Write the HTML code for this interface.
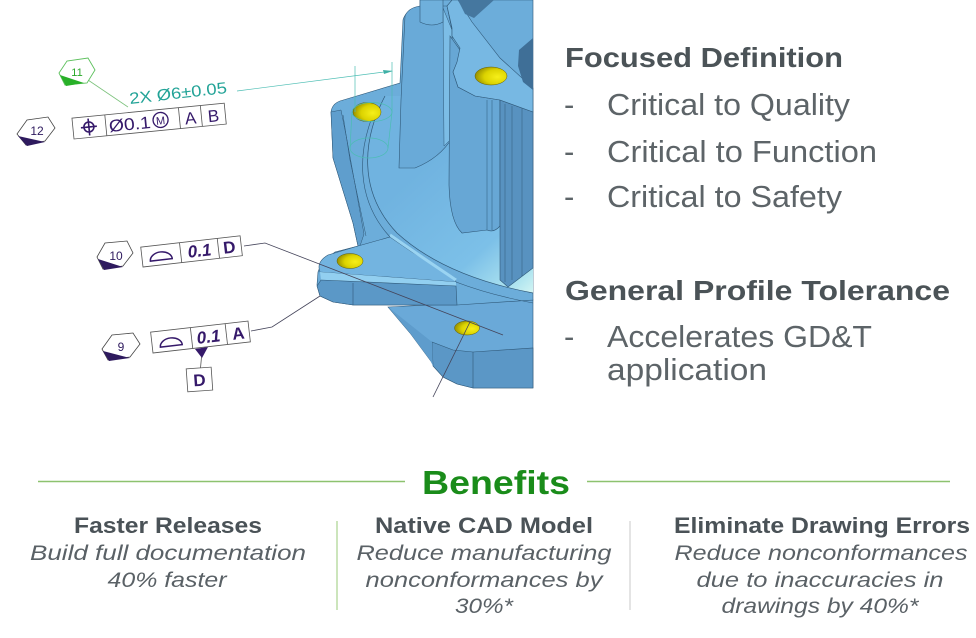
<!DOCTYPE html>
<html><head><meta charset="utf-8"><style>
html,body{margin:0;padding:0;background:#fff;}
body{width:976px;height:638px;overflow:hidden;}
svg{display:block;}
</style></head><body>
<svg width="976" height="638" viewBox="0 0 976 638" xmlns="http://www.w3.org/2000/svg" font-family="'Liberation Sans', Arial, sans-serif">
<defs>
<linearGradient id="floor" gradientUnits="userSpaceOnUse" x1="420" y1="170" x2="533" y2="295">
<stop offset="0" stop-color="#70b3e0"/><stop offset="0.6" stop-color="#7cc0e8"/><stop offset="0.88" stop-color="#aee4f0"/><stop offset="1" stop-color="#d6f6f3"/>
</linearGradient>
<radialGradient id="hole" cx="0.7" cy="0.55" r="0.75">
<stop offset="0" stop-color="#f6ef1a"/><stop offset="0.55" stop-color="#dcd300"/><stop offset="1" stop-color="#8a8300"/>
</radialGradient>
</defs>
<rect width="976" height="638" fill="#fff"/>

<!-- lower base -->
<path d="M388,307 L533,300 L533,388 L473,388 L457,384 L443,377 L430,360 L410,333 Z" fill="#6aa9d8" stroke="#2f5878" stroke-width="0.6"/>
<path d="M432,342 L453,350 L473,352 L533,348 L533,388 L473,388 L457,384 L443,377 L433,366 Z" fill="#5b97c6" stroke="#2f5878" stroke-width="0.6"/>
<path d="M388,307 L432,342 L433,366 L430,360 L410,333 Z" fill="#5e9ccc"/>
<line x1="473" y1="352" x2="473" y2="388" stroke="#2f5878" stroke-width="0.6"/>

<!-- main body -->
<path d="M331,112 Q332,104 340,101 L400,83 L403,20 Q405,12 415,8 L420,6 L420,0 L533,0 L533,300 L457,305 L353,305 L333,302 L320,296 L317,285 L318,272 L322,262 L335,252 L358,246 L353,223 L333,158 Z" fill="#6cadda" stroke="#2f5878" stroke-width="0.6"/>
<!-- floor -->
<path d="M385,96 C362,140 358,192 397,233 C432,265 480,283 533,293 L533,96 Z" fill="url(#floor)"/>
<!-- flange side face -->
<path d="M331,112 L341,110 L347,140 L364,234 L360,246 L358,246 L353,223 L333,158 Z" fill="#5f9ecd" stroke="#2f5878" stroke-width="0.5"/>
<path d="M343,115 L350,160 L366,236" fill="none" stroke="#2f5878" stroke-width="0.5"/>

<!-- main column -->
<path d="M399,168 L401,100 L405,16 Q408,8 420,6 L447,6 L452,30 L452,138 Q440,158 415,168 Z" fill="#69aad8" stroke="#2f5878" stroke-width="0.6"/>
<path d="M443,8 L452,30 L452,138 L444,146 Z" fill="#7cbde6" stroke="#2f5878" stroke-width="0.5"/>
<path d="M420,0 L443,0 L443,22 Q432,28 420,22 Z" fill="#6fb0dc" stroke="#2f5878" stroke-width="0.6"/>

<!-- column 2 -->
<path d="M450,36 L460,50 L457,63 L453,72 L458,87 L475,96 L500,100 L500,226 Q494,233 487,230 L462,233 Q450,222 449,185 Z" fill="#67a7d5" stroke="#2f5878" stroke-width="0.6"/>
<path d="M500,100 L533,112 L533,268 L508,287 L500,280 Z" fill="#5892c0" stroke="#2f5878" stroke-width="0.6"/>
<g stroke="#2f5878" stroke-width="0.5">
<line x1="487" y1="100" x2="487" y2="230"/>
<line x1="492" y1="100" x2="492" y2="230"/>
<line x1="505" y1="104" x2="505" y2="282"/>
<line x1="512" y1="106" x2="512" y2="280"/>
<line x1="522" y1="108" x2="522" y2="276"/>
</g>
<!-- top platform -->
<path d="M447,6 L452,0 L458,0 L472,22 L500,58 L533,88 L533,112 L500,100 L475,96 L458,87 L453,72 L457,62 L460,48 L452,36 L452,28 Z" fill="#77b8e3" stroke="#2f5878" stroke-width="0.6"/>
<path d="M458,0 L494,0 L474,18 L465,14 Z" fill="#45779f"/>
<path d="M519,50 L533,38 L533,90 L523,82 L518,66 Z" fill="#3f6f97"/>

<!-- tab -->
<path d="M320,272 Q316,262 328,255 L358,246 L390,237 L412,252 L455,278 L456,282 Z" fill="#73b4e0" stroke="#2f5878" stroke-width="0.6"/>
<path d="M320,272 L456,282 L456,286 L321,280 Z" fill="#92cff0"/>
<path d="M321,280 L456,286 L457,305 L353,305 L333,302 L320,296 L317,286 Z" fill="#5b98c7" stroke="#2f5878" stroke-width="0.6"/>
<line x1="353" y1="283" x2="353" y2="305" stroke="#2f5878" stroke-width="0.6"/>
<path d="M390,235 Q420,256 456,280" fill="none" stroke="#9ad4f2" stroke-width="3"/>
<path d="M456,282 Q490,295 533,303" fill="none" stroke="#2f5878" stroke-width="0.6"/>

<!-- arcs -->
<path d="M385,96 C362,140 358,192 397,233 C432,265 480,283 533,293" fill="none" stroke="#2f5878" stroke-width="0.7"/>
<path d="M377,106 C356,150 356,200 390,237" fill="none" stroke="#2f5878" stroke-width="0.6"/>

<!-- holes -->
<g fill="url(#hole)" stroke="#5c5a10" stroke-width="0.5">
<ellipse cx="367" cy="112" rx="14" ry="9.5"/>
<ellipse cx="491" cy="76" rx="16" ry="9"/>
<ellipse cx="350" cy="261" rx="13" ry="7.5"/>
<ellipse cx="467" cy="328" rx="12.5" ry="7"/>
</g>

<!-- teal cylinder & dimension -->
<g stroke="#4bbdb3" stroke-width="0.7" fill="none">
<ellipse cx="372" cy="112" rx="20" ry="9.5"/>
<ellipse cx="369" cy="148" rx="19" ry="10"/>
<line x1="352" y1="112" x2="350" y2="148"/>
<line x1="392" y1="112" x2="388" y2="148"/>
<line x1="355" y1="66" x2="355" y2="112"/>
<line x1="392" y1="62" x2="392" y2="112"/>
<line x1="237" y1="91" x2="392" y2="71"/>
</g>
<path d="M383,70 L393,71 L384,74 Z" fill="#3fb0a6"/>
<line x1="88" y1="80" x2="128" y2="107" stroke="#7cc27c" stroke-width="0.8"/>
<text x="130" y="104" font-size="16" fill="#22a397" textLength="98" lengthAdjust="spacingAndGlyphs" transform="rotate(-6.5 130 104)">2X Ø6±0.05</text>

<!-- leaders -->
<g stroke="#44445a" stroke-width="0.8" fill="none">
<polyline points="244,246 265,243 503,335"/>
<polyline points="251,331 272,327 320,296"/>
<line x1="470" y1="322" x2="433" y2="397"/>
</g>

<!-- hex 11 -->
<polygon points="59,73 67,61 88,58 95,70 87,83 65,85" fill="#fff" stroke="#5cc05c" stroke-width="0.9"/>
<polygon points="60,75 84,83 66,86" fill="#28b028"/>
<text x="77" y="76" font-size="11" fill="#2aa82a" text-anchor="middle">11</text>
<!-- hex 12 -->
<polygon points="17,134 27,120 48,117 55,128 45,141 26,145" fill="#fff" stroke="#444" stroke-width="0.8"/>
<polygon points="18,136 45,142 27,146" fill="#2e1a5e"/>
<text x="37" y="135" font-size="12" fill="#2e1a5e" text-anchor="middle">12</text>
<!-- hex 10 -->
<polygon points="97,257 105,243 127,241 133,253 123,266 103,269" fill="#fff" stroke="#444" stroke-width="0.8"/>
<polygon points="98,259 123,267 104,270" fill="#2e1a5e"/>
<text x="116" y="260" font-size="12" fill="#2e1a5e" text-anchor="middle">10</text>
<!-- hex 9 -->
<polygon points="102,349 112,335 133,333 140,344 130,357 108,360" fill="#fff" stroke="#444" stroke-width="0.8"/>
<polygon points="103,351 130,358 109,361" fill="#2e1a5e"/>
<text x="121" y="351" font-size="12" fill="#2e1a5e" text-anchor="middle">9</text>

<!-- FCF 12 -->
<g transform="rotate(-5.6 74 139)">
<rect x="74" y="118" width="153" height="21" fill="#fff" stroke="#555" stroke-width="0.8"/>
<g stroke="#555" stroke-width="0.8"><line x1="107" y1="118" x2="107" y2="139"/><line x1="181" y1="118" x2="181" y2="139"/><line x1="203" y1="118" x2="203" y2="139"/></g>
<circle cx="90" cy="128.5" r="5" fill="none" stroke="#35196a" stroke-width="1.6"/>
<line x1="82" y1="128.5" x2="98" y2="128.5" stroke="#35196a" stroke-width="1.6"/>
<line x1="90" y1="120" x2="90" y2="137" stroke="#35196a" stroke-width="1.6"/>
<text x="110" y="135.5" font-size="17" fill="#35196a" textLength="42" lengthAdjust="spacingAndGlyphs">Ø0.1</text>
<circle cx="162" cy="128.5" r="7.5" fill="none" stroke="#35196a" stroke-width="1.3"/>
<text x="162" y="133" font-size="11" fill="#35196a" text-anchor="middle">M</text>
<text x="192" y="135.5" font-size="17" fill="#35196a" text-anchor="middle">A</text>
<text x="215" y="135.5" font-size="17" fill="#35196a" text-anchor="middle">B</text>
</g>

<!-- FCF 10 -->
<g transform="rotate(-6.5 143 267)">
<rect x="143" y="247" width="100" height="20" fill="#fff" stroke="#555" stroke-width="0.8"/>
<g stroke="#555" stroke-width="0.8"><line x1="182" y1="247" x2="182" y2="267"/><line x1="220" y1="247" x2="220" y2="267"/></g>
<path d="M151,262 A11,8 0 0 1 173,262 Z" fill="none" stroke="#35196a" stroke-width="1.5"/>
<text x="201" y="263" font-size="17" fill="#35196a" text-anchor="middle" font-style="italic" font-weight="bold">0.1</text>
<text x="231" y="263" font-size="17" fill="#35196a" text-anchor="middle" font-weight="bold">D</text>
</g>

<!-- FCF 9 -->
<g transform="rotate(-6.5 153 353)">
<rect x="153" y="332" width="98" height="21" fill="#fff" stroke="#555" stroke-width="0.8"/>
<g stroke="#555" stroke-width="0.8"><line x1="193" y1="332" x2="193" y2="353"/><line x1="228" y1="332" x2="228" y2="353"/></g>
<path d="M161,348 A11,8 0 0 1 183,348 Z" fill="none" stroke="#35196a" stroke-width="1.5"/>
<text x="210" y="349" font-size="17" fill="#35196a" text-anchor="middle" font-style="italic" font-weight="bold">0.1</text>
<text x="240" y="349" font-size="17" fill="#35196a" text-anchor="middle" font-weight="bold">A</text>
</g>
<!-- datum D -->
<path d="M195,349 L208,347 L202,358 Z" fill="#35196a"/>
<line x1="201.5" y1="357" x2="200.5" y2="368" stroke="#555" stroke-width="0.8"/>
<g transform="rotate(-4 199 380)">
<rect x="187" y="368" width="25" height="23" fill="#fff" stroke="#555" stroke-width="0.8"/>
<text x="199.5" y="386" font-size="17" fill="#35196a" text-anchor="middle" font-weight="bold">D</text>
</g>

<!-- right text -->
<g fill="#4b5357">
<text x="565" y="67" font-size="28" font-weight="bold" textLength="278" lengthAdjust="spacingAndGlyphs">Focused Definition</text>
<text x="565" y="300" font-size="28" font-weight="bold" textLength="385" lengthAdjust="spacingAndGlyphs">General Profile Tolerance</text>
</g>
<g fill="#5d6468" font-size="31">
<text x="564" y="115">-</text>
<text x="607" y="115" textLength="243" lengthAdjust="spacingAndGlyphs">Critical to Quality</text>
<text x="564" y="162">-</text>
<text x="607" y="162" textLength="270" lengthAdjust="spacingAndGlyphs">Critical to Function</text>
<text x="564" y="207">-</text>
<text x="607" y="207" textLength="235" lengthAdjust="spacingAndGlyphs">Critical to Safety</text>
<text x="564" y="347">-</text>
<text x="607" y="347" textLength="265" lengthAdjust="spacingAndGlyphs">Accelerates GD&amp;T</text>
<text x="607" y="380" textLength="160" lengthAdjust="spacingAndGlyphs">application</text>
</g>

<!-- Benefits -->
<line x1="38" y1="481.5" x2="405" y2="481.5" stroke="#8dc26f" stroke-width="1.5"/>
<line x1="587" y1="481.5" x2="950" y2="481.5" stroke="#8dc26f" stroke-width="1.5"/>
<text x="422" y="494" font-size="33" font-weight="bold" fill="#1a8c1a" textLength="148" lengthAdjust="spacingAndGlyphs">Benefits</text>

<line x1="337" y1="521" x2="337" y2="610" stroke="#9acb7a" stroke-width="1"/>
<line x1="630" y1="521" x2="630" y2="610" stroke="#c9c9c9" stroke-width="1"/>

<g fill="#4a5257" font-size="22" font-weight="bold" text-anchor="middle">
<text x="168" y="533" textLength="188" lengthAdjust="spacingAndGlyphs">Faster Releases</text>
<text x="484" y="533" textLength="218" lengthAdjust="spacingAndGlyphs">Native CAD Model</text>
<text x="822" y="533" textLength="296" lengthAdjust="spacingAndGlyphs">Eliminate Drawing Errors</text>
</g>
<g fill="#5a6166" font-size="21" font-style="italic" text-anchor="middle">
<text x="168" y="560" textLength="276" lengthAdjust="spacingAndGlyphs">Build full documentation</text>
<text x="167" y="587" textLength="119" lengthAdjust="spacingAndGlyphs">40% faster</text>
<text x="484" y="560" textLength="255" lengthAdjust="spacingAndGlyphs">Reduce manufacturing</text>
<text x="484" y="587" textLength="237" lengthAdjust="spacingAndGlyphs">nonconformances by</text>
<text x="484" y="613" textLength="58" lengthAdjust="spacingAndGlyphs">30%*</text>
<text x="821" y="560" textLength="293" lengthAdjust="spacingAndGlyphs">Reduce nonconformances</text>
<text x="820" y="587" textLength="247" lengthAdjust="spacingAndGlyphs">due to inaccuracies in</text>
<text x="820" y="613" textLength="197" lengthAdjust="spacingAndGlyphs">drawings by 40%*</text>
</g>
</svg>
</body></html>
